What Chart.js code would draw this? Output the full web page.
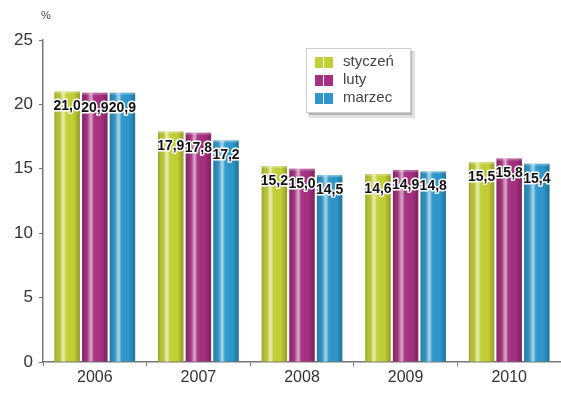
<!DOCTYPE html>
<html>
<head>
<meta charset="utf-8">
<script src="https://cdn.jsdelivr.net/npm/chart.js@4/dist/chart.umd.min.js"></script>
<style>
  html, body { margin: 0; padding: 0; background: #fff; }
  #wrap { width: 561px; height: 394px; position: relative; }
</style>
</head>
<body>
<div id="wrap"><canvas id="chart"></canvas></div>
<script>
// Lata i wartości miesięczne (%)
const years = ['2006', '2007', '2008', '2009', '2010'];
const styczen = [21.0, 17.9, 15.2, 14.6, 15.5];
const luty = [20.9, 17.8, 15.0, 14.9, 15.8];
const marzec = [20.9, 17.2, 14.5, 14.8, 15.4];
const seriesNames = ['styczeń', 'luty', 'marzec'];
const yTicks = [0, 5, 10, 15, 20, 25];

const colors = ['#c3cf35', '#a52f80', '#2d97cb'];
const FONT = '"Liberation Sans", Arial, sans-serif';

function fmt(v) {
    return v.toFixed(1).replace('.', ',');
}

// cieniowanie "walca" na słupkach
const barShading = {
    id: 'barShading',
    afterDatasetsDraw(chart) {
        const ctx = chart.ctx;
        chart.data.datasets.forEach((ds, i) => {
            chart.getDatasetMeta(i).data.forEach(bar => {
                const left = bar.x - bar.width / 2;
                const g = ctx.createLinearGradient(left, 0, left + bar.width, 0);
                g.addColorStop(0, 'rgba(0,0,0,0.22)');
                g.addColorStop(0.12, 'rgba(0,0,0,0.05)');
                g.addColorStop(0.28, 'rgba(255,255,255,0.35)');
                g.addColorStop(0.36, 'rgba(255,255,255,0.6)');
                g.addColorStop(0.46, 'rgba(255,255,255,0.05)');
                g.addColorStop(0.75, 'rgba(0,0,0,0)');
                g.addColorStop(1, 'rgba(0,0,0,0.25)');
                ctx.save();
                ctx.fillStyle = g;
                ctx.fillRect(left, bar.y, bar.width, bar.base - bar.y);
                // jaśniejsza krawędź u góry
                ctx.fillStyle = 'rgba(255,255,255,0.25)';
                ctx.fillRect(left, bar.y, bar.width, 2);
                ctx.restore();
            });
        });
    }
};

// etykiety wartości z białą obwódką
const valueLabels = {
    id: 'valueLabels',
    afterDatasetsDraw(chart) {
        const ctx = chart.ctx;
        ctx.save();
        ctx.font = 'bold 14px ' + FONT;
        ctx.textAlign = 'center';
        ctx.textBaseline = 'middle';
        ctx.lineJoin = 'round';
        chart.data.datasets.forEach((ds, i) => {
            chart.getDatasetMeta(i).data.forEach((bar, j) => {
                const txt = fmt(ds.data[j]);
                const y = bar.y + 15;
                ctx.strokeStyle = '#fff';
                ctx.lineWidth = 3;
                ctx.strokeText(txt, bar.x, y);
                ctx.fillStyle = '#111';
                ctx.fillText(txt, bar.x, y);
            });
        });
        ctx.restore();
    }
};

// legenda w ramce z cieniem oraz jednostka osi
const boxLegend = {
    id: 'boxLegend',
    afterDraw(chart) {
        const ctx = chart.ctx;
        const x = 306, y = 48, w = 104, h = 64;
        ctx.save();
        ctx.fillStyle = 'rgba(0,0,0,0.12)';
        ctx.fillRect(x + 3, y + 3, w + 2, h + 3);
        ctx.fillStyle = 'rgba(0,0,0,0.2)';
        ctx.fillRect(x + 2, y + 2, w, h + 1);
        ctx.fillStyle = '#fff';
        ctx.fillRect(x, y, w, h);
        ctx.strokeStyle = '#cfcfcf';
        ctx.lineWidth = 1;
        ctx.strokeRect(x + 0.5, y + 0.5, w, h);

        ctx.font = '15px ' + FONT;
        ctx.textBaseline = 'middle';
        chart.data.datasets.forEach((ds, i) => {
            const cy = y + 14 + i * 18;
            ctx.fillStyle = ds.backgroundColor;
            ctx.fillRect(x + 9, cy - 5, 8, 11);
            ctx.fillRect(x + 18, cy - 5, 9, 11);
            ctx.fillStyle = '#444';
            ctx.fillText(ds.label, x + 37, cy);
        });

        ctx.font = '11px ' + FONT;
        ctx.fillStyle = '#444';
        ctx.textAlign = 'center';
        ctx.fillText('%', 46, 16);
        ctx.restore();
    }
};

new Chart(document.getElementById('chart'), {
    type: 'bar',
    data: {
        labels: years,
        datasets: [styczen, luty, marzec].map((d, i) => ({
            label: seriesNames[i],
            data: d,
            backgroundColor: colors[i],
            borderWidth: 0,
            categoryPercentage: 0.8,
            barPercentage: 0.92
        }))
    },
    options: {
        responsive: true,
        maintainAspectRatio: false,
        animation: false,
        layout: { padding: { top: 40, right: 0, left: 0, bottom: 0 } },
        plugins: {
            legend: { display: false },
            tooltip: { enabled: false }
        },
        scales: {
            x: {
                grid: {
                    display: true,
                    drawOnChartArea: false,
                    drawTicks: true,
                    tickLength: 4,
                    color: '#777'
                },
                border: { display: true, color: '#777', width: 1.5 },
                ticks: {
                    color: '#333',
                    font: { family: FONT, size: 16 },
                    padding: 2
                },
                afterFit(scale) { scale.height = 32; }
            },
            y: {
                min: 0,
                max: 25,
                afterBuildTicks(scale) {
                    scale.ticks = yTicks.map(v => ({ value: v }));
                },
                grid: {
                    display: true,
                    drawOnChartArea: false,
                    drawTicks: true,
                    tickLength: 4,
                    color: '#777'
                },
                border: { display: true, color: '#777', width: 1.5 },
                ticks: {
                    color: '#333',
                    font: { family: FONT, size: 17 },
                    padding: 6
                },
                afterFit(scale) { scale.width = 43; }
            }
        }
    },
    plugins: [barShading, valueLabels, boxLegend]
});
</script>
</body>
</html>
